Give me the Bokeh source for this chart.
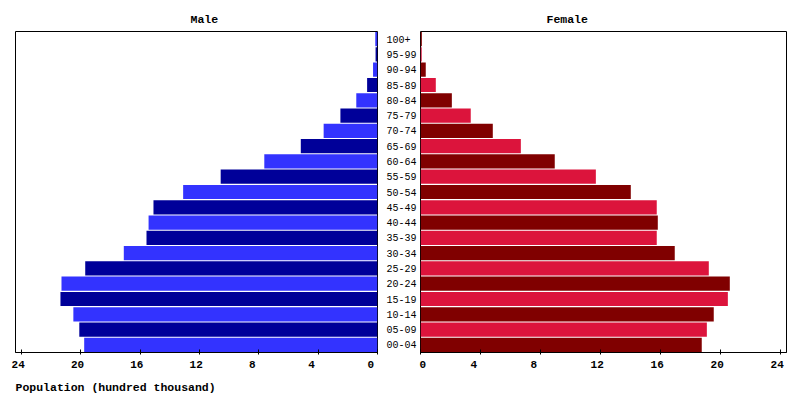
from bokeh.plotting import figure
from bokeh.layouts import row
from bokeh.models import FactorRange, Range1d, FixedTicker, Title, ColumnDataSource
from bokeh.embed import file_html
from bokeh.resources import INLINE

ages = ["00-04", "05-09", "10-14", "15-19", "20-24", "25-29", "30-34",
        "35-39", "40-44", "45-49", "50-54", "55-59", "60-64", "65-69",
        "70-74", "75-79", "80-84", "85-89", "90-94", "95-99", "100+"]
male = [19.77, 20.1, 20.5, 21.37, 21.3, 19.7, 17.1, 15.57, 15.43, 15.1,
        13.1, 10.57, 7.63, 5.17, 3.63, 2.5, 1.43, 0.7, 0.3, 0.13, 0.15]
female = [18.75, 19.09, 19.55, 20.49, 20.62, 19.22, 16.95, 15.75, 15.82,
          15.75, 14.02, 11.69, 8.95, 6.69, 4.82, 3.35, 2.09, 1.02, 0.35,
          0.08, 0.09]
tick_values = [0, 4, 8, 12, 16, 20, 24]
x_max = 24.4

FONT = "Liberation Mono"
NBSP = "\u00a0"

male_colors = ["#3333FF" if i % 2 == 0 else "#000099" for i in range(len(ages))]
female_colors = ["#800000" if i % 2 == 0 else "#DC143C" for i in range(len(ages))]

src_m = ColumnDataSource(dict(age=ages, val=male, color=male_colors))
src_f = ColumnDataSource(dict(age=ages, val=female, color=female_colors))


def style_common(p):
    p.outline_line_color = "black"
    p.outline_line_width = 1
    p.xgrid.visible = False
    p.ygrid.visible = False
    p.background_fill_color = "white"
    p.border_fill_color = "white"
    ax = p.xaxis[0]
    ax.ticker = FixedTicker(ticks=tick_values)
    # labels sit slightly left of their tick, as in the reference
    ax.major_label_overrides = {t: str(t).ljust(3, NBSP) for t in tick_values}
    ax.major_label_text_font = FONT
    ax.major_label_text_font_size = "11px"
    ax.major_label_text_font_style = "bold"
    ax.major_label_text_color = "black"
    ax.major_label_standoff = 4
    ax.major_tick_in = 3
    ax.major_tick_out = 2
    ax.minor_tick_line_color = None
    ax.axis_line_color = "black"
    ax.major_tick_line_color = "black"


def style_title(p, text, offset):
    p.title.text = text
    p.title.align = "left"
    p.title.offset = offset
    p.title.text_font = FONT
    p.title.text_font_size = "11.5px"
    p.title.text_font_style = "bold"
    p.title.text_color = "black"
    p.title.standoff = 11


H = 398
TOP = 31
BOTTOM = 46

# Left (male) figure
p1 = figure(width=419, height=H, y_range=FactorRange(*ages),
            x_range=Range1d(x_max, 0), output_backend="svg",
            toolbar_location=None, y_axis_location="right",
            min_border_left=15, min_border_right=38,
            min_border_top=TOP, min_border_bottom=BOTTOM)
p1.hbar(y="age", left=0, right="val", height=0.93, fill_color="color",
        line_color=None, source=src_m)
style_common(p1)
ya = p1.yaxis[0]
ya.major_tick_line_color = None
ya.minor_tick_line_color = None
ya.axis_line_color = None
ya.major_label_standoff = 3
ya.major_label_text_font = FONT
ya.major_label_text_font_size = "10px"
ya.major_label_text_color = "black"
style_title(p1, "Male", 175)
p1.add_layout(Title(text="Population (hundred thousand)", align="left",
                    text_font=FONT, text_font_size="11.5px",
                    text_font_style="bold", text_color="black",
                    standoff=10), "below")

# Right (female) figure
p2 = figure(width=372, height=H, y_range=p1.y_range,
            x_range=Range1d(0, x_max), output_backend="svg",
            toolbar_location=None, y_axis_location=None,
            min_border_left=1, min_border_right=5,
            min_border_top=TOP, min_border_bottom=BOTTOM)
p2.hbar(y="age", left=0, right="val", height=0.93, fill_color="color",
        line_color=None, source=src_f)
style_common(p2)
style_title(p2, "Female", 126)

layout = row(p1, p2)
open("out.html", "w").write(file_html(layout, INLINE))
